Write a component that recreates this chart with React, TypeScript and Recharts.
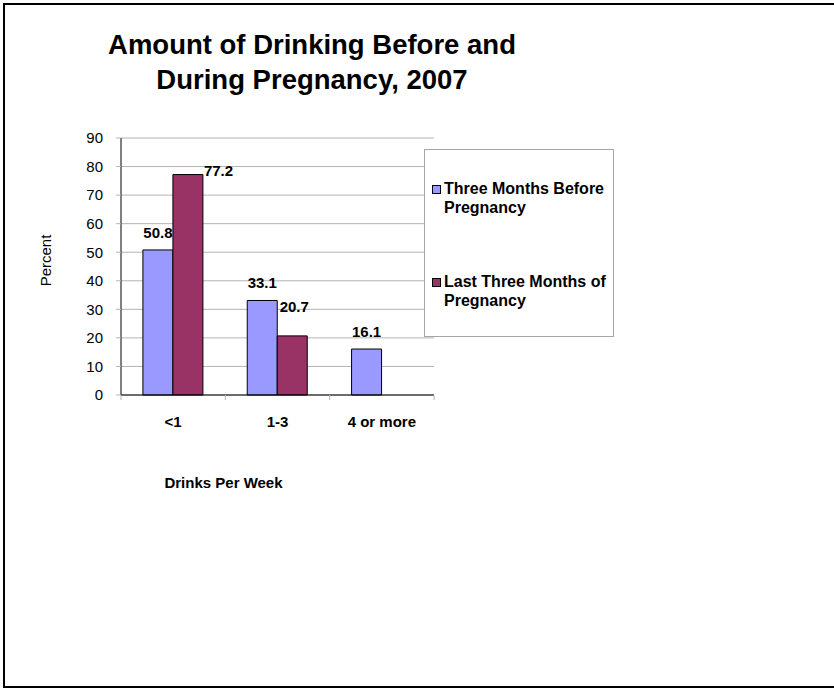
import { BarChart, Bar, XAxis, YAxis, CartesianGrid, Legend, LabelList } from 'recharts';

const categories = ['<1', '1-3', '4 or more'];
const beforePregnancy = [50.8, 33.1, 16.1];
const lastThreeMonths: (number | null)[] = [77.2, 20.7, null];
const yTicks = [0, 10, 20, 30, 40, 50, 60, 70, 80, 90];

const seriesNames = ['Three Months Before Pregnancy', 'Last Three Months of Pregnancy'];
const colors = ['#9999FF', '#993366'];

const FONT = 'Arial, "Liberation Sans", sans-serif';
const TICK_GAP = 21;

const data = categories.map((c, i) => ({
  name: c,
  before: beforePregnancy[i],
  during: lastThreeMonths[i],
}));

// labels for the first series sit centred over the bar
function BeforeLabel(props: any) {
  const { x, y, width, value } = props;
  if (value == null) return null;
  return (
    <text x={x + width / 2} y={y - 12} textAnchor="middle" fontSize={15} fontWeight="bold" fontFamily={FONT} fill="#000">
      {value}
    </text>
  );
}

// second series: the tall one is pushed beside the bar, the other floats higher
function DuringLabel(props: any) {
  const { x, y, width, value, index } = props;
  if (value == null) return null;
  if (index === 0) {
    return (
      <text x={x + width + 1} y={y + 1} textAnchor="start" fontSize={15} fontWeight="bold" fontFamily={FONT} fill="#000">
        {value}
      </text>
    );
  }
  return (
    <text x={x + width / 2 + 2} y={y - 24} textAnchor="middle" fontSize={15} fontWeight="bold" fontFamily={FONT} fill="#000">
      {value}
    </text>
  );
}

// category label plus the small marks between categories (Excel style)
function XTick(props: any) {
  const { x, y, payload, index, visibleTicksCount } = props;
  const half = payload?.offset ?? 0;
  const top = y - TICK_GAP;
  return (
    <g>
      <line x1={x - half} x2={x - half} y1={top} y2={top + 5} stroke="#b4b4b4" />
      {index === visibleTicksCount - 1 && (
        <line x1={x + half} x2={x + half} y1={top} y2={top + 5} stroke="#b4b4b4" />
      )}
      <text x={x} y={y} dy="0.71em" textAnchor="middle" fontSize={15} fontWeight="bold" fontFamily={FONT} fill="#000">
        {payload.value}
      </text>
    </g>
  );
}

function LegendBox() {
  return (
    <div
      style={{
        width: 190,
        height: 188,
        boxSizing: 'border-box',
        border: '1px solid #a6a6a6',
        background: '#fff',
        fontFamily: FONT,
        fontSize: 16,
        fontWeight: 'bold',
        color: '#000',
        position: 'relative',
      }}
    >
      {seriesNames.map((n, i) => (
        <div
          key={n}
          style={{ position: 'absolute', left: 7, top: i === 0 ? 29 : 122, width: 183, display: 'flex', lineHeight: '19px' }}
        >
          <span
            style={{
              display: 'inline-block',
              width: 7,
              height: 7,
              marginTop: 6,
              marginRight: 3,
              border: '1px solid #000',
              background: colors[i],
              flexShrink: 0,
            }}
          />
          <span>{n}</span>
        </div>
      ))}
    </div>
  );
}

export default function App() {
  return (
    <div style={{ position: 'absolute', left: 0, top: 0, width: 834, height: 688, overflow: 'hidden', background: '#fff' }}>
      <div
        style={{
          position: 'absolute',
          left: 3,
          top: 3,
          width: 860,
          height: 685,
          boxSizing: 'border-box',
          border: '2px solid #000',
        }}
      />
      <div
        style={{
          position: 'absolute',
          left: 0,
          top: 27,
          width: 624,
          textAlign: 'center',
          fontFamily: FONT,
          fontWeight: 'bold',
          fontSize: 27.5,
          lineHeight: '35px',
          color: '#000',
          whiteSpace: 'nowrap',
        }}
      >
        Amount of Drinking Before and
        <br />
        During Pregnancy, 2007
      </div>
      <div style={{ position: 'absolute', left: 0, top: 0 }}>
        <BarChart
          width={834}
          height={688}
          data={data}
          margin={{ top: 138, right: 400, bottom: 198, left: 41 }}
          barCategoryGap="21%"
          barGap={0}
        >
          <CartesianGrid horizontal vertical={false} stroke="#b4b4b4" />
          <XAxis
            dataKey="name"
            height={95}
            stroke="#000"
            tickLine={false}
            tickSize={0}
            tickMargin={TICK_GAP}
            tick={<XTick />}
            label={{
              value: 'Drinks Per Week',
              position: 'insideBottom',
              offset: 2,
              dx: -54,
              style: { fontSize: 15, fontWeight: 'bold', fill: '#000', fontFamily: FONT },
            }}
          />
          <YAxis
            width={80}
            domain={[0, 90]}
            ticks={yTicks}
            interval={0}
            stroke="#000"
            tickSize={5}
            tickMargin={13}
            tickLine={{ stroke: '#b4b4b4' }}
            tick={{ fontSize: 15, fill: '#000', fontFamily: FONT }}
            label={{
              value: 'Percent',
              angle: -90,
              position: 'insideLeft',
              offset: 5,
              dy: -6,
              style: { fontSize: 15, fill: '#000', fontFamily: FONT, textAnchor: 'middle' },
            }}
          />
          <Legend
            layout="vertical"
            align="center"
            verticalAlign="middle"
            wrapperStyle={{ left: 424, top: 149, width: 190, height: 188 }}
            content={() => <LegendBox />}
          />
          <Bar dataKey="before" name={seriesNames[0]} fill={colors[0]} stroke="#000" strokeWidth={1} isAnimationActive={false}>
            <LabelList dataKey="before" content={BeforeLabel} />
          </Bar>
          <Bar dataKey="during" name={seriesNames[1]} fill={colors[1]} stroke="#000" strokeWidth={1} isAnimationActive={false}>
            <LabelList dataKey="during" content={DuringLabel} />
          </Bar>
        </BarChart>
      </div>
    </div>
  );
}
